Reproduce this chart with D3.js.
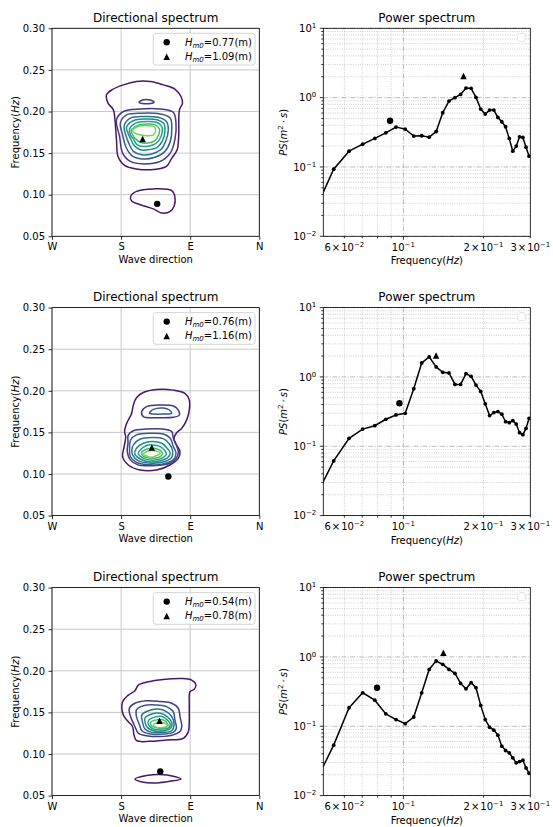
<!DOCTYPE html>
<html>
<head>
<meta charset="utf-8">
<script src="https://cdn.jsdelivr.net/npm/d3@7"></script>
<style>
  body { margin: 0; background: #fff; }
  svg text { font-family: "DejaVu Sans", sans-serif; fill: #000; }
</style>
</head>
<body>
<svg id="fig" width="553" height="827"></svg>
<script>
// ---- directional spectrum axes (compass degrees, axis runs W -> N)
const dirTicks = [270, 180, 90, 0];
const dirLabels = ['W', 'S', 'E', 'N'];
const freqTicks = [0.05, 0.10, 0.15, 0.20, 0.25, 0.30];

// ---- power spectrum bins (Hz) and values (m^2 s), one list per row
const psFreq = [0.0469, 0.0547, 0.0625, 0.0703, 0.0781, 0.0859, 0.0938, 0.1016, 0.1094, 0.1172,
  0.125, 0.1328, 0.1406, 0.1484, 0.1563, 0.1641, 0.1719, 0.1797, 0.1875, 0.1953, 0.2031,
  0.2109, 0.2188, 0.2266, 0.2344, 0.2422, 0.25, 0.2578, 0.2656, 0.2734, 0.2813, 0.2891, 0.2969];
const psTop = [0.025, 0.093, 0.169, 0.213, 0.258, 0.311, 0.376, 0.352, 0.279, 0.282, 0.269, 0.325,
  0.605, 0.892, 0.997, 1.114, 1.375, 1.36, 1.007, 0.684, 0.579, 0.661, 0.661, 0.518, 0.449, 0.380,
  0.258, 0.169, 0.200, 0.272, 0.267, 0.193, 0.143];
const psMid = [0.0191, 0.0615, 0.130, 0.177, 0.198, 0.245, 0.283, 0.299, 0.675, 1.592, 1.945, 1.393,
  1.165, 1.14, 0.780, 0.780, 1.114, 1.019, 0.762, 0.618, 0.409, 0.277, 0.306, 0.316, 0.290, 0.226,
  0.219, 0.234, 0.209, 0.157, 0.147, 0.181, 0.253];
const psBot = [0.0161, 0.0534, 0.185, 0.304, 0.238, 0.151, 0.125, 0.109, 0.136, 0.304, 0.661, 0.873,
  0.782, 0.661, 0.579, 0.415, 0.347, 0.425, 0.360, 0.200, 0.125, 0.097, 0.0879, 0.0745, 0.0517,
  0.0447, 0.0414, 0.0351, 0.0297, 0.031, 0.0324, 0.0251, 0.021];

// ---- Hm0 in the legends: [swell (circle), wind sea (triangle)]
const hm0Top = ['0.77', '1.09'];
const hm0Mid = ['0.76', '1.16'];
const hm0Bot = ['0.54', '0.78'];

// ---- peaks on the directional spectrum: [direction, frequency]
const swellDir = [[133, 0.089], [118.5, 0.097], [129, 0.079]];
const windDir = [[152, 0.167], [140, 0.132], [130, 0.140]];
// ---- peaks on the power spectrum: [frequency, PS]
const swellPS = [[0.0891, 0.464], [0.0966, 0.418], [0.0796, 0.36]];
const windPS = [[0.1683, 2.05], [0.1327, 2.03], [0.1414, 1.15]];

// ---- contour lines: [level, [[direction, frequency], ...]]
const contTop = [
  [0, [[199,0.220],[192,0.226],[177,0.232],[160,0.236],[142,0.236],[125,0.232],[110,0.227],[102,0.218],[100,0.210],[104,0.202],[105,0.170],[107,0.154],[114,0.144],[121,0.134],[142,0.130],[160,0.131],[175,0.135],[184,0.146],[186,0.166],[188,0.190],[190,0.202],[197,0.210]]],
  [1, [[137,0.211],[142,0.2138],[147,0.2145],[152,0.2138],[156.5,0.211],[152,0.2095],[147,0.2092],[142,0.2095]]],
  [0, [[167.6,0.098],[159.8,0.104],[138,0.107],[114,0.105],[110,0.098],[111,0.086],[116,0.080],[127,0.078],[138,0.083],[155,0.088],[166,0.092]]],
  [1, [[186,0.190],[177,0.200],[155,0.203],[129,0.203],[112,0.199],[108.5,0.186],[110,0.166],[116,0.150],[129,0.140],[151,0.137],[168,0.140],[178,0.150],[182,0.170]]],
  [2, [[181,0.186],[173,0.196],[153,0.198],[129,0.197],[116,0.192],[114,0.180],[116,0.164],[123,0.152],[136,0.145],[153,0.143],[166,0.147],[174,0.158],[178,0.172]]],
  [3, [[176,0.183],[168,0.192],[151,0.194],[132,0.193],[121,0.188],[118.5,0.178],[122,0.164],[128.5,0.154],[140,0.149],[153,0.148],[164,0.152],[170,0.162],[174,0.172]]],
  [4, [[173,0.181],[164,0.189],[149,0.191],[133,0.190],[124,0.185],[123,0.176],[126,0.165],[133,0.157],[145,0.154],[155,0.154],[163,0.159],[168,0.168],[171,0.174]]],
  [5, [[169,0.179],[161,0.186],[147,0.188],[134,0.187],[127,0.182],[127,0.173],[131,0.165],[138,0.160],[149,0.158],[159,0.160],[164,0.167],[168,0.172]]],
  [6, [[167,0.177],[159,0.183],[146,0.185],[135.5,0.184],[130,0.179],[131,0.172],[136,0.165],[145,0.162],[155,0.163],[162,0.168],[165,0.172]]],
  [7, [[165,0.177],[158,0.182],[145,0.183],[137,0.182],[135,0.177],[138,0.172],[147,0.171],[156,0.172],[162,0.174]]]
];
const contMid = [
  [0, [[159.8,0.192],[151.1,0.198],[133.7,0.2016],[112,0.2008],[96.8,0.1968],[91.2,0.1888],[91.2,0.1768],[94.7,0.1648],[101.2,0.1548],[107.7,0.1496],[111.2,0.1428],[107.7,0.1348],[103.3,0.1268],[105.5,0.1188],[116.4,0.1108],[133.7,0.1048],[155.4,0.1048],[170.6,0.1108],[178,0.1208],[176,0.1328],[174,0.1448],[175.5,0.151],[172.8,0.1608],[166.3,0.1728],[164.1,0.1828]]],
  [1, [[153.2,0.1749],[146.7,0.1809],[129.3,0.1829],[112,0.1817],[105.5,0.1769],[104.2,0.1709],[112,0.1681],[133.7,0.1677],[151,0.1689]]],
  [2, [[143.2,0.1729],[138,0.1777],[125,0.1793],[117.2,0.1769],[114.2,0.1729],[125,0.1721],[138,0.1721]]],
  [1, [[170.6,0.147],[164,0.152],[147,0.154],[125,0.154],[114,0.151],[112,0.143],[105.5,0.127],[108,0.119],[116,0.113],[138,0.110],[158,0.111],[168,0.117],[172,0.127],[171,0.137]]],
  [2, [[167.5,0.141],[160,0.147],[142,0.149],[125,0.148],[116,0.143],[112,0.133],[108.5,0.125],[112,0.117],[125,0.112],[142,0.111],[160,0.114],[168,0.121],[169,0.131]]],
  [3, [[164,0.135],[155,0.142],[140,0.144],[125,0.1425],[117,0.136],[113,0.128],[114,0.120],[123,0.115],[140,0.113],[158,0.116],[165,0.123],[166,0.129]]],
  [4, [[160,0.131],[151,0.137],[140,0.139],[127,0.137],[120,0.131],[116,0.125],[120,0.119],[129,0.116],[142,0.1145],[155,0.118],[162,0.124]]],
  [5, [[156,0.128],[147.6,0.134],[139,0.135],[129,0.133],[123,0.128],[121,0.124],[125,0.120],[134,0.117],[144.5,0.117],[153,0.120],[157.6,0.124]]],
  [6, [[153,0.126],[146,0.130],[138,0.131],[130,0.129],[126,0.125],[129,0.121],[138,0.119],[147,0.120],[152,0.122]]],
  [7, [[151,0.124],[143,0.128],[136,0.128],[129,0.125],[134,0.122],[140,0.120],[148,0.122]]]
];
const contBot = [
  [0, [[178,0.1628],[170.6,0.1708],[162,0.176],[157.6,0.1828],[144.5,0.1868],[125,0.1896],[101.2,0.1908],[88.1,0.1888],[82.5,0.1828],[85.1,0.1776],[90.3,0.1748],[91.2,0.1608],[91.2,0.1408],[92.5,0.1268],[99,0.1188],[120.7,0.1168],[142.4,0.1152],[159.7,0.116],[163.2,0.1228],[165,0.1328],[170.6,0.1388],[177.1,0.1468]]],
  [0, [[161.9,0.070],[146.7,0.0741],[129.4,0.0753],[112,0.0733],[102,0.070],[116.4,0.0672],[133.7,0.0652],[151.1,0.066]]],
  [1, [[169.3,0.155],[162,0.161],[147,0.164],[129,0.163],[114,0.161],[105.5,0.155],[103.3,0.145],[101,0.133],[103.3,0.127],[112,0.123],[129,0.121],[147,0.122],[157.6,0.125],[162,0.133],[166,0.141],[169,0.149]]],
  [2, [[160,0.153],[151,0.158],[134,0.159],[121,0.157],[112,0.151],[110,0.141],[108,0.131],[112,0.126],[125,0.124],[142,0.124],[153,0.128],[156,0.135],[160,0.145]]],
  [3, [[153,0.147],[144.5,0.152],[131.5,0.154],[121,0.151],[114,0.145],[111,0.135],[114,0.128],[125,0.126],[140,0.126],[149,0.130],[152,0.138]]],
  [4, [[149,0.143],[140,0.148],[129,0.149],[120,0.145],[114,0.138],[115.5,0.131],[125,0.128],[138,0.128],[146,0.132],[148.5,0.137]]],
  [5, [[144.5,0.140],[137,0.144],[127,0.145],[120,0.141],[116,0.136],[118.5,0.131],[127,0.130],[138,0.130],[143.7,0.134]]],
  [6, [[141.5,0.138],[134,0.141],[125,0.141],[120,0.137],[120,0.133],[127,0.131],[136,0.132],[140.6,0.134]]],
  [7, [[138,0.135],[131.5,0.138],[123,0.137],[118.5,0.134],[125,0.132],[134,0.132]]]
];

const rows = [
  { cont: contTop, ps: psTop, hm: hm0Top },
  { cont: contMid, ps: psMid, hm: hm0Mid },
  { cont: contBot, ps: psBot, hm: hm0Bot }
];

const levelColors = d3.range(8).map(i => d3.interpolateViridis(0.06 + i * 0.105));

const svg = d3.select('#fig');
const rowTops = [28.3, 307.6, 587.6];
const axH = 208;
const leftX = 52, leftW = 207.3;
const rightX = 323.3, rightW = 207;

// triangle marker centred on its box, like matplotlib '^'
function tri(s) { return `M0,${-s / 2}L${s / 2},${s / 2}L${-s / 2},${s / 2}Z`; }

// "m x 10^e" label built from tspans
function powLabel(text, mant, exp) {
  const e = exp < 0 ? '\u2212' + (-exp) : String(exp);
  text.append('tspan').text(mant === 1 ? '10' : mant + '\u200a\u00d7\u200a10');
  text.append('tspan').attr('dy', -4).attr('font-size', 7).text(e);
}

function drawDirectional(i) {
  const r = rows[i];
  const top = rowTops[i];
  const g = svg.append('g').attr('transform', `translate(${leftX},${top})`);
  const x = d3.scaleLinear().domain([270, 0]).range([0, leftW]);
  const y = d3.scaleLinear().domain([0.05, 0.30]).range([axH, 0]);

  // grid
  g.append('g').selectAll('line').data(dirTicks).join('line')
    .attr('x1', d => x(d)).attr('x2', d => x(d)).attr('y1', 0).attr('y2', axH)
    .attr('stroke', '#c8c8c8').attr('stroke-width', 1);
  g.append('g').selectAll('line').data(freqTicks).join('line')
    .attr('x1', 0).attr('x2', leftW).attr('y1', d => y(d)).attr('y2', d => y(d))
    .attr('stroke', '#c8c8c8').attr('stroke-width', 1);

  // contours
  const line = d3.line().x(d => x(d[0])).y(d => y(d[1]))
    .curve(d3.curveCatmullRomClosed.alpha(0.5));
  g.append('g').selectAll('path').data(r.cont).join('path')
    .attr('d', d => line(d[1]))
    .attr('fill', 'none')
    .attr('stroke', d => levelColors[d[0]])
    .attr('stroke-width', 1.5);

  // peaks
  g.append('circle').attr('cx', x(swellDir[i][0])).attr('cy', y(swellDir[i][1])).attr('r', 3.2);
  g.append('path').attr('d', tri(6.5))
    .attr('transform', `translate(${x(windDir[i][0])},${y(windDir[i][1])})`);

  // axes
  const xa = g.append('g').attr('transform', `translate(0,${axH})`)
    .call(d3.axisBottom(x).tickValues(dirTicks).tickFormat((d, k) => dirLabels[k])
      .tickSize(3.5).tickPadding(3.5));
  const ya = g.append('g')
    .call(d3.axisLeft(y).tickValues(freqTicks).tickFormat(d3.format('.2f'))
      .tickSize(3.5).tickPadding(3.5));
  [xa, ya].forEach(a => {
    a.select('.domain').remove();
    a.attr('font-family', null).attr('font-size', 10);
    a.selectAll('line').attr('stroke-width', 0.8);
  });
  g.append('rect').attr('width', leftW).attr('height', axH)
    .attr('fill', 'none').attr('stroke', '#000').attr('stroke-width', 0.8);

  // legend
  const lg = g.append('g').attr('transform', `translate(${leftW - 4.3 - 101.7},5)`);
  lg.append('rect').attr('width', 101.7).attr('height', 31.7).attr('rx', 2.5)
    .attr('fill', '#fff').attr('fill-opacity', 0.8)
    .attr('stroke', '#cccccc').attr('stroke-width', 0.8);
  lg.append('circle').attr('cx', 13.4).attr('cy', 9).attr('r', 3.2);
  lg.append('path').attr('d', tri(6.5)).attr('transform', 'translate(13.4,23.4)');
  r.hm.forEach((v, k) => {
    const t = lg.append('text').attr('x', 31.7).attr('y', 12.5 + k * 14.4).attr('font-size', 10);
    t.append('tspan').attr('font-style', 'italic').text('H');
    t.append('tspan').attr('font-style', 'italic').attr('font-size', 7).attr('dy', 2).text('m0');
    t.append('tspan').attr('dy', -2).text(`=${v}(m)`);
  });

  // labels
  g.append('text').attr('x', leftW / 2).attr('y', -6.3).attr('text-anchor', 'middle')
    .attr('font-size', 12).text('Directional spectrum');
  g.append('text').attr('x', leftW / 2).attr('y', axH + 26.6).attr('text-anchor', 'middle')
    .attr('font-size', 10).text('Wave direction');
  const yl = g.append('text').attr('transform', `translate(${19 - leftX},${axH / 2}) rotate(-90)`)
    .attr('text-anchor', 'middle').attr('font-size', 10);
  yl.append('tspan').text('Frequency(');
  yl.append('tspan').attr('font-style', 'italic').text('Hz');
  yl.append('tspan').text(')');
}

function drawPower(i) {
  const r = rows[i];
  const top = rowTops[i];
  const g = svg.append('g').attr('transform', `translate(${rightX},${top})`);
  const x = d3.scaleLog().domain([0.05, 0.3]).range([0, rightW]);
  const y = d3.scaleLog().domain([0.01, 10]).range([axH, 0]);

  const xMajor = [0.1];
  const xMinor = [0.06, 0.07, 0.08, 0.09, 0.2, 0.3];
  const yMajor = [0.01, 0.1, 1, 10];
  const yMinor = [];
  [0.01, 0.1, 1].forEach(b => d3.range(2, 10).forEach(m => yMinor.push(b * m)));

  const minorStyle = s => s.attr('stroke', '#c4c4c4').attr('stroke-width', 0.8).attr('stroke-dasharray', '1,1.3');
  const majorStyle = s => s.attr('stroke', '#a8a8a8').attr('stroke-width', 0.8).attr('stroke-dasharray', '5,1.5,1,1.5');

  g.append('g').selectAll('line').data(yMinor).join('line')
    .attr('x1', 0).attr('x2', rightW).attr('y1', d => y(d)).attr('y2', d => y(d)).call(minorStyle);
  g.append('g').selectAll('line').data(xMinor).join('line')
    .attr('y1', 0).attr('y2', axH).attr('x1', d => x(d)).attr('x2', d => x(d)).call(minorStyle);
  g.append('g').selectAll('line').data(yMajor).join('line')
    .attr('x1', 0).attr('x2', rightW).attr('y1', d => y(d)).attr('y2', d => y(d)).call(majorStyle);
  g.append('g').selectAll('line').data(xMajor).join('line')
    .attr('y1', 0).attr('y2', axH).attr('x1', d => x(d)).attr('x2', d => x(d)).call(majorStyle);

  // spectrum line
  const clipId = 'clip' + i;
  g.append('clipPath').attr('id', clipId).append('rect').attr('width', rightW).attr('height', axH);
  const pts = psFreq.map((f, k) => [f, r.ps[k]]);
  const plot = g.append('g').attr('clip-path', `url(#${clipId})`);
  plot.append('path').datum(pts)
    .attr('d', d3.line().x(d => x(d[0])).y(d => y(d[1])))
    .attr('fill', 'none').attr('stroke', '#000').attr('stroke-width', 1.5);
  plot.selectAll('circle.pt').data(pts).join('circle').attr('class', 'pt')
    .attr('cx', d => x(d[0])).attr('cy', d => y(d[1])).attr('r', 1.9);
  plot.append('circle').attr('cx', x(swellPS[i][0])).attr('cy', y(swellPS[i][1])).attr('r', 3.2);
  plot.append('path').attr('d', tri(6.5))
    .attr('transform', `translate(${x(windPS[i][0])},${y(windPS[i][1])})`);

  // ticks
  const tk = g.append('g').attr('stroke', '#000').attr('stroke-width', 0.8);
  tk.selectAll('.ym').data(yMajor).join('line').attr('x1', -3.5).attr('x2', 0)
    .attr('y1', d => y(d)).attr('y2', d => y(d));
  tk.selectAll('.yn').data(yMinor).join('line').attr('x1', -2).attr('x2', 0)
    .attr('y1', d => y(d)).attr('y2', d => y(d));
  tk.selectAll('.xm').data(xMajor.concat(xMinor)).join('line')
    .attr('y1', axH).attr('y2', d => axH + (d === 0.1 ? 3.5 : 2))
    .attr('x1', d => x(d)).attr('x2', d => x(d));

  g.append('rect').attr('width', rightW).attr('height', axH)
    .attr('fill', 'none').attr('stroke', '#000').attr('stroke-width', 0.8);

  // tick labels
  yMajor.forEach(v => {
    const t = g.append('text').attr('x', -7).attr('y', y(v) + 3.6)
      .attr('text-anchor', 'end').attr('font-size', 10);
    powLabel(t, 1, Math.round(Math.log10(v)));
  });
  [[0.06, 6, -2], [0.1, 1, -1], [0.2, 2, -1], [0.3, 3, -1]].forEach(([v, m, e]) => {
    const t = g.append('text').attr('x', x(v)).attr('y', axH + 14.4)
      .attr('text-anchor', 'middle').attr('font-size', 10);
    powLabel(t, m, e);
  });

  // empty legend box
  g.append('rect').attr('x', rightW - 5 - 7.6).attr('y', 5).attr('width', 7.6).attr('height', 8)
    .attr('rx', 2).attr('fill', '#fff').attr('stroke', '#dcdcdc').attr('stroke-width', 0.8);

  // labels
  g.append('text').attr('x', rightW / 2).attr('y', -6.3).attr('text-anchor', 'middle')
    .attr('font-size', 12).text('Power spectrum');
  const xl = g.append('text').attr('x', rightW / 2).attr('y', axH + 28)
    .attr('text-anchor', 'middle').attr('font-size', 10);
  xl.append('tspan').text('Frequency(');
  xl.append('tspan').attr('font-style', 'italic').text('Hz');
  xl.append('tspan').text(')');
  const yl = g.append('text').attr('transform', `translate(${287 - rightX},${axH / 2}) rotate(-90)`)
    .attr('text-anchor', 'middle').attr('font-size', 10);
  yl.append('tspan').attr('font-style', 'italic').text('PS');
  yl.append('tspan').text('(');
  yl.append('tspan').attr('font-style', 'italic').text('m');
  yl.append('tspan').attr('dy', -4).attr('font-size', 7).text('2');
  yl.append('tspan').attr('dy', 4).text('\u2009\u00b7\u2009');
  yl.append('tspan').attr('font-style', 'italic').text('s');
  yl.append('tspan').text(')');
}

rows.forEach((r, i) => { drawDirectional(i); drawPower(i); });
</script>
</body>
</html>
